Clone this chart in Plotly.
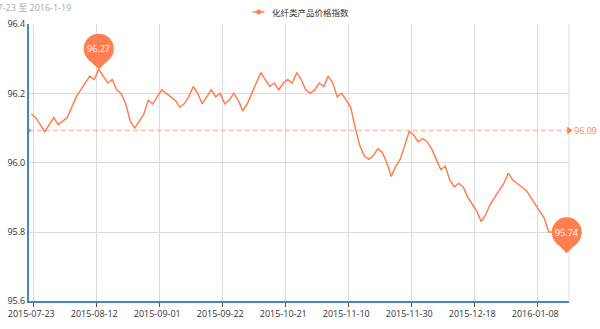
import plotly.graph_objects as go

# Daily price index of chemical-fibre products (one value per trading day)
index_values = [
    96.14, 96.13, 96.11, 96.09, 96.11, 96.13, 96.11, 96.12, 96.13, 96.16,
    96.19, 96.21, 96.23, 96.25, 96.24, 96.27, 96.25, 96.23, 96.24, 96.21,
    96.20, 96.17, 96.12, 96.10, 96.12, 96.14, 96.18, 96.17, 96.19, 96.21,
    96.20, 96.19, 96.18, 96.16, 96.17, 96.19, 96.22, 96.20, 96.17, 96.19,
    96.21, 96.19, 96.20, 96.17, 96.18, 96.20, 96.18, 96.15, 96.17, 96.20,
    96.23, 96.26, 96.24, 96.22, 96.23, 96.21, 96.23, 96.24, 96.23, 96.26,
    96.24, 96.21, 96.20, 96.21, 96.23, 96.22, 96.25, 96.23, 96.19, 96.20,
    96.18, 96.16, 96.10, 96.05, 96.02, 96.01, 96.02, 96.04, 96.03, 96.00,
    95.96, 95.99, 96.01, 96.05, 96.09, 96.08, 96.06, 96.07, 96.06, 96.04,
    96.01, 95.98, 95.99, 95.95, 95.93, 95.94, 95.93, 95.90, 95.88, 95.86,
    95.83, 95.85, 95.88, 95.90, 95.92, 95.94, 95.97, 95.95, 95.94, 95.93,
    95.92, 95.90, 95.88, 95.86, 95.84, 95.80, 95.80, 95.78, 95.76, 95.74,
]
tick_labels = [
    "2015-07-23", "2015-08-12", "2015-09-01", "2015-09-22", "2015-10-21",
    "2015-11-10", "2015-11-30", "2015-12-18", "2016-01-08",
]
label_step = 14
y_ticks = [95.6, 95.8, 96.0, 96.2, 96.4]
series_name = "化纤类产品价格指数"
subtitle = "2015-7-23 至 2016-1-19"

W, H = 600, 329
CORAL = "#ff7f50"
AXIS_BLUE = "#4488bb"
GRID = "#dcdcdc"
FONT = "Open Sans, Noto Sans CJK SC, sans-serif"
CJK = "Noto Sans CJK SC, sans-serif"

n = len(index_values)
xs = list(range(n))
x_range = [-0.5, n - 0.5]
y_range = [y_ticks[0], y_ticks[-1]]
mean_val = sum(index_values) / n
i_max = max(xs, key=lambda i: index_values[i])
i_min = min(xs, key=lambda i: index_values[i])

label_pos = [i * label_step for i in range(len(tick_labels))]
boundary_pos = [p + 0.5 for p in label_pos]

fig = go.Figure()

# average mark line
fig.add_trace(go.Scatter(
    x=x_range, y=[mean_val, mean_val], mode="lines",
    line=dict(color="rgba(255,127,80,0.5)", width=1.5, dash="5px,3px"),
    hoverinfo="skip", showlegend=False,
))
fig.add_trace(go.Scatter(
    x=[x_range[0]], y=[mean_val], mode="markers",
    marker=dict(symbol="circle", size=4, color=CORAL),
    cliponaxis=False, hoverinfo="skip", showlegend=False,
))
fig.add_trace(go.Scatter(
    x=[x_range[1]], y=[mean_val], mode="markers",
    marker=dict(symbol="triangle-right", size=7, color=CORAL),
    cliponaxis=False, hoverinfo="skip", showlegend=False,
))

# main series
fig.add_trace(go.Scatter(
    x=xs, y=index_values, mode="lines", name=series_name,
    line=dict(color=CORAL, width=1.5), showlegend=False,
))

shapes = []
annotations = []


def pin(i, v):
    xa = (i - x_range[0]) / (x_range[1] - x_range[0])
    ya = (v - y_range[0]) / (y_range[1] - y_range[0])
    common = dict(xref="x domain", yref="y domain", xsizemode="pixel",
                  ysizemode="pixel", xanchor=xa, yanchor=ya,
                  fillcolor=CORAL, line=dict(width=0), layer="above")
    shapes.append(dict(type="circle", x0=-15, x1=15, y0=5.5, y1=35.5, **common))
    shapes.append(dict(type="path", path="M0,0 L-10.6,9.8 L10.6,9.8 Z", **common))
    annotations.append(dict(
        x=i, y=v, xref="x", yref="y", yshift=20.5, showarrow=False,
        text=f"{v:.2f}", font=dict(family=FONT, size=9, color="white"),
    ))


pin(i_max, index_values[i_max])
pin(i_min, index_values[i_min])

# right border grid line
shapes.append(dict(type="line", xref="x domain", yref="y domain",
                   x0=1, x1=1, y0=0, y1=1, line=dict(color=GRID, width=1),
                   layer="below"))

# average label
annotations.append(dict(
    x=1, xref="x domain", y=mean_val, yref="y", xanchor="left", xshift=3,
    showarrow=False, text=f"{mean_val:.2f}",
    font=dict(family=FONT, size=9, color=CORAL),
))

# legend
lx, ly = 252.7, 12
shapes.append(dict(type="line", xref="paper", yref="paper",
                   x0=lx / W, x1=(lx + 11.5) / W, y0=1 - ly / H, y1=1 - ly / H,
                   line=dict(color=CORAL, width=1.5)))
shapes.append(dict(type="circle", xref="paper", yref="paper",
                   x0=(lx + 3.5) / W, x1=(lx + 8.5) / W,
                   y0=1 - (ly + 2.5) / H, y1=1 - (ly - 2.5) / H,
                   fillcolor=CORAL, line=dict(width=0)))
annotations.append(dict(
    x=270 / W, y=1 - ly / H, xref="paper", yref="paper", xanchor="left",
    yanchor="middle", showarrow=False, text=series_name,
    font=dict(family=CJK, size=8.5, color="#333"),
))

# subtitle
annotations.append(dict(
    x=73 / W, y=1 - 7.5 / H, xref="paper", yref="paper", xanchor="right",
    yanchor="middle", showarrow=False, text=subtitle,
    font=dict(family=FONT, size=9, color="#aaa"),
))

fig.update_layout(
    width=W, height=H,
    margin=dict(l=0, r=0, t=0, b=0, autoexpand=False),
    paper_bgcolor="white", plot_bgcolor="white",
    showlegend=False,
    font=dict(family=FONT, size=9, color="#333"),
    shapes=shapes, annotations=annotations,
    xaxis=dict(
        domain=[29 / W, 569 / W], range=x_range, automargin=False,
        tickmode="array", tickvals=label_pos, ticktext=tick_labels,
        ticks="", showgrid=False, zeroline=False, ticklabelstandoff=3,
        showline=True, linecolor=AXIS_BLUE, linewidth=1.5,
        tickfont=dict(family=FONT, size=9, color="#333"),
        minor=dict(tickmode="array", tickvals=boundary_pos, ticks="outside",
                   ticklen=4, tickcolor="#555", showgrid=True,
                   gridcolor=GRID, gridwidth=1),
    ),
    yaxis=dict(
        domain=[1 - 301.3 / H, 1 - 24.1 / H], range=y_range, automargin=False,
        tickmode="array", tickvals=y_ticks, tickformat=".1f",
        ticks="", showgrid=True, gridcolor=GRID, gridwidth=1, zeroline=False,
        showline=True, linecolor=AXIS_BLUE, linewidth=2,
        tickfont=dict(family=FONT, size=9, color="#333"),
    ),
)

fig.write_html("out.html")
